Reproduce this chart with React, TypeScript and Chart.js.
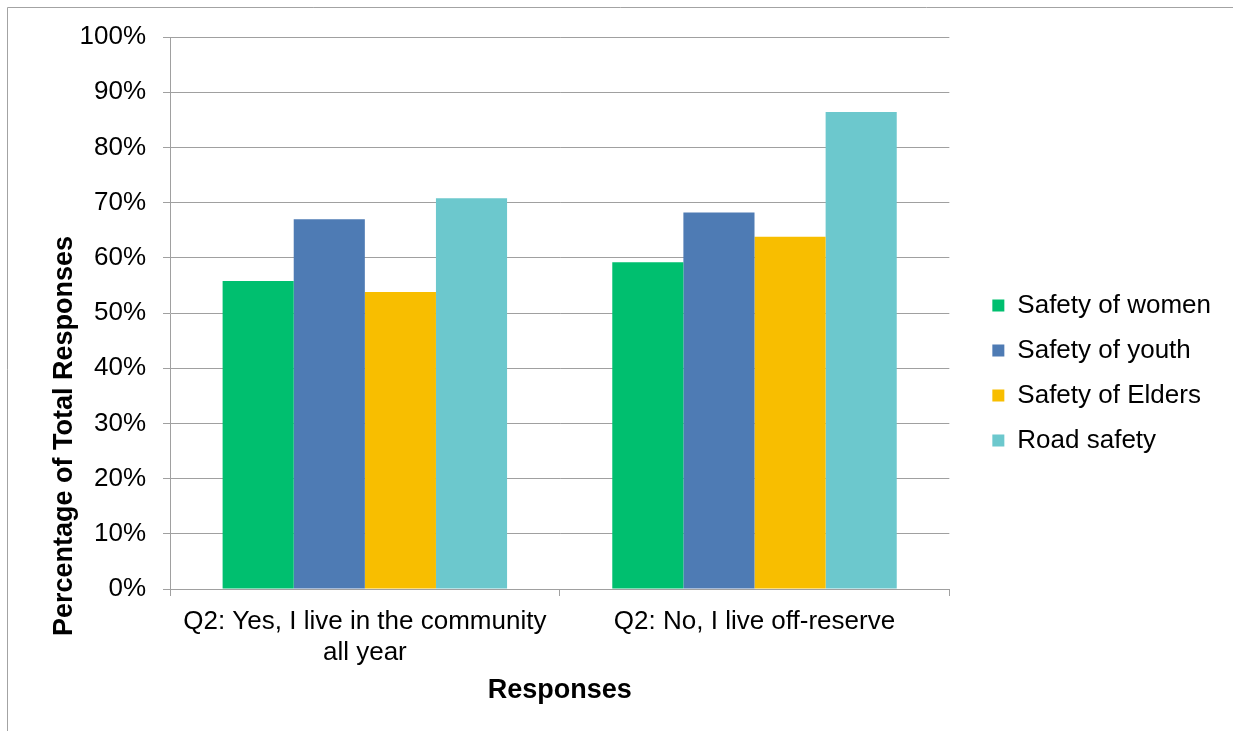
import { useEffect, useRef } from 'react';
import { Chart, registerables } from 'chart.js';

Chart.register(...registerables);

// Survey responses by place of residence
const categories: (string | string[])[] = [
  ['Q2: Yes, I live in the community', 'all year'],
  'Q2: No, I live off-reserve',
];
const seriesNames = ['Safety of women', 'Safety of youth', 'Safety of Elders', 'Road safety'];
const safetyOfWomen = [55.8, 59.2];
const safetyOfYouth = [67.0, 68.2];
const safetyOfElders = [53.8, 63.8];
const roadSafety = [70.8, 86.4];
const seriesColors = ['#00BF6F', '#4E7BB4', '#F8BE00', '#6CC8CD'];
const yMax = 100;
const yStep = 10;
const xTitle = 'Responses';
const yTitle = 'Percentage of Total Responses';

const FONT = "'Liberation Sans', Arial, Helvetica, sans-serif";
const GRID = '#A0A0A0';

// Outer frame plus the rotated y-axis title
const decorations = {
  id: 'decorations',
  beforeDraw(chart: Chart) {
    const { ctx } = chart;
    ctx.save();
    ctx.strokeStyle = '#A3A3A3';
    ctx.lineWidth = 1;
    ctx.beginPath();
    ctx.moveTo(7.5, chart.height);
    ctx.lineTo(7.5, 7.5);
    ctx.lineTo(chart.width, 7.5);
    ctx.stroke();
    ctx.restore();
  },
  afterDraw(chart: Chart) {
    const { ctx, chartArea } = chart;
    ctx.save();
    ctx.font = `bold 27px ${FONT}`;
    ctx.fillStyle = '#000';
    ctx.textAlign = 'center';
    ctx.textBaseline = 'alphabetic';
    ctx.translate(72, (chartArea.top + chartArea.bottom) / 2 + 123);
    ctx.rotate(-Math.PI / 2);
    ctx.fillText(yTitle, 0, 0);
    ctx.restore();
  },
};

export default function App() {
  const canvasRef = useRef<HTMLCanvasElement>(null);

  useEffect(() => {
    if (!canvasRef.current) return;
    Chart.defaults.font.family = FONT;
    Chart.defaults.color = '#000';
    const values = [safetyOfWomen, safetyOfYouth, safetyOfElders, roadSafety];
    const chart = new Chart(canvasRef.current, {
      type: 'bar',
      data: {
        labels: categories,
        datasets: seriesNames.map((name, i) => ({
          label: name,
          data: values[i],
          backgroundColor: seriesColors[i],
          borderWidth: 0,
          barPercentage: 1,
          categoryPercentage: 0.73,
        })),
      },
      options: {
        responsive: false,
        animation: false,
        layout: { padding: { top: 37, bottom: 22, left: 0, right: 12 } },
        plugins: {
          tooltip: { enabled: false },
          legend: {
            position: 'right',
            labels: {
              boxWidth: 12,
              boxHeight: 12,
              padding: 19,
              color: '#000',
              font: { size: 26, family: FONT },
            },
          },
        },
        scales: {
          x: {
            grid: { drawOnChartArea: false, color: GRID, tickLength: 7, offset: true },
            border: { display: true, color: GRID },
            ticks: { font: { size: 26 }, color: '#000', maxRotation: 0, autoSkip: false, padding: 10 },
            title: { display: true, text: xTitle, font: { size: 27, weight: 'bold' }, color: '#000', padding: { top: 0, bottom: 2 } },
            afterFit: (s: any) => { s.height = 120; },
          },
          y: {
            min: 0,
            max: yMax,
            ticks: { stepSize: yStep, font: { size: 26 }, color: '#000', padding: 17, callback: (v: any) => `${v}%` },
            grid: { color: GRID, tickLength: 7 },
            border: { display: true, color: GRID },
            afterFit: (s: any) => { s.width = 170; },
          },
          // empty spacer between the plot and the legend
          gap: {
            type: 'linear',
            position: 'right',
            display: false,
            afterFit: (s: any) => { s.width = 24; },
          },
        },
      },
      plugins: [decorations],
    });
    return () => chart.destroy();
  }, []);

  return (
    <div style={{ position: 'absolute', left: 0, top: 0, width: 1233, height: 731, background: '#fff' }}>
      <canvas ref={canvasRef} width={1233} height={731} style={{ display: 'block' }} />
    </div>
  );
}
